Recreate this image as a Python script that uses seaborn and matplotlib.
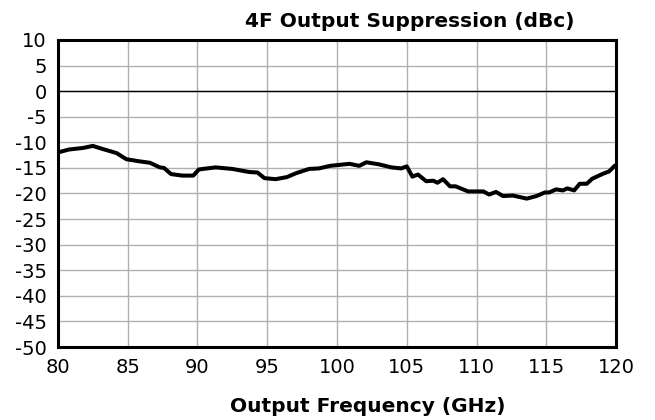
from matplotlib import pyplot as plt
import seaborn as sns
import pandas as pd

freq_ghz = [80.0, 80.1, 80.8, 81.8, 82.5, 83.2, 84.2, 84.9, 85.8, 86.6, 87.3, 87.6,
            88.1, 88.9, 89.7, 90.1, 91.3, 92.5, 93.7, 94.3, 94.8, 95.6, 96.4, 97.1,
            98.0, 98.7, 99.5, 100.9, 101.6, 102.1, 103.0, 103.9, 104.6, 105.0, 105.4,
            105.8, 106.4, 106.9, 107.2, 107.6, 108.1, 108.5, 109.4, 110.5, 110.9,
            111.4, 111.9, 112.6, 113.6, 114.3, 114.9, 115.2, 115.7, 116.2, 116.5,
            117.0, 117.4, 117.9, 118.3, 119.1, 119.5, 119.9, 120.0]
suppression_dbc = [-12.0, -11.9, -11.4, -11.1, -10.7, -11.3, -12.1, -13.3, -13.7, -14.0,
                   -14.9, -15.0, -16.2, -16.5, -16.5, -15.3, -14.9, -15.2, -15.8, -15.9,
                   -17.0, -17.2, -16.8, -16.0, -15.2, -15.1, -14.6, -14.2, -14.6, -13.9,
                   -14.3, -14.9, -15.1, -14.7, -16.7, -16.3, -17.6, -17.5, -17.9, -17.2,
                   -18.6, -18.6, -19.6, -19.6, -20.2, -19.7, -20.5, -20.4, -21.0, -20.5,
                   -19.8, -19.8, -19.2, -19.4, -19.0, -19.4, -18.1, -18.1, -17.1, -16.1,
                   -15.7, -14.6, -14.5]

x_ticks = list(range(80, 121, 5))
y_ticks = list(range(-50, 11, 5))


def make_plot():
    sns.set_style('white')
    plt.rcParams['font.family'] = ['DejaVu Sans']
    plt.rcParams['axes.unicode_minus'] = False
    df = pd.DataFrame({'Frequency': freq_ghz, 'Suppression': suppression_dbc})

    fig, ax = plt.subplots(figsize=(6.55, 4.2), dpi=100)
    fig.subplots_adjust(left=0.0885, right=0.9405, top=0.9048, bottom=0.1738)

    ax.set_xticks(x_ticks)
    ax.set_yticks(y_ticks)
    ax.grid(True, color='#b0b0b0', linewidth=1.0)
    ax.axhline(0, color='black', linewidth=1.0, zorder=2)

    sns.lineplot(data=df, x='Frequency', y='Suppression', ax=ax,
                 color='black', linewidth=2.9, zorder=3)

    ax.set_xlim(80, 120)
    ax.set_ylim(-50, 10)
    for side in ax.spines.values():
        side.set_color('black')
        side.set_linewidth(2.2)
    ax.tick_params(length=0, labelsize=14, pad=8, colors='black')
    ax.set_xlabel('Output Frequency (GHz)', fontsize=14.5, fontweight='bold',
                  color='black')
    # label sits right of the axes centre in the original
    ax.xaxis.set_label_coords(0.555, -0.163)
    ax.set_ylabel('')
    ax.text(0.63, 1.03, '4F Output Suppression (dBc)', transform=ax.transAxes,
            ha='center', va='bottom', fontsize=14.5, fontweight='bold', color='black')


def save_plot_as(filename):
    make_plot()
    plt.savefig(filename)
    plt.close()


if __name__ == '__main__':
    save_plot_as('out.png')
